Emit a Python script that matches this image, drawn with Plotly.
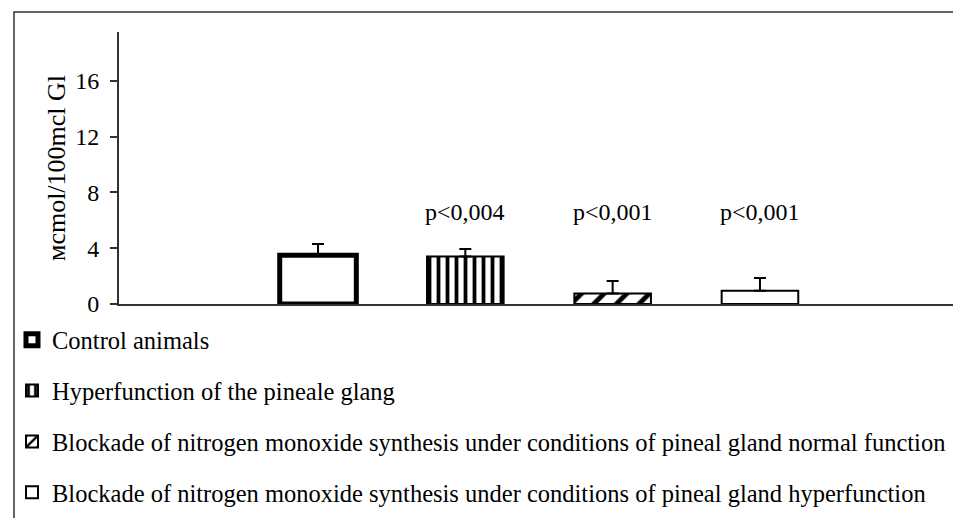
import plotly.graph_objects as go

# ---- data ----
groups = [
    "Control animals",
    "Hyperfunction of the pineale glang",
    "Blockade of nitrogen monoxide synthesis under conditions of pineal gland normal function",
    "Blockade of nitrogen monoxide synthesis under conditions of pineal gland hyperfunction",
]
values = [3.5, 3.4, 0.75, 0.95]
errors = [0.8, 0.55, 0.9, 0.92]
p_labels = ["", "p<0,004", "p<0,001", "p<0,001"]
y_ticks = [0, 4, 8, 12, 16]
y_title = "мcmol/100mcl Gl"
label_height = 6.6

FONT = "Liberation Serif, Times New Roman, serif"

styles = [
    dict(line_w=5, shape=""),
    dict(line_w=2, shape="|"),
    dict(line_w=2, shape="/"),
    dict(line_w=2, shape=""),
]

fig = go.Figure()
for i, (g, v, e) in enumerate(zip(groups, values, errors)):
    st = styles[i]
    marker = dict(color="white", opacity=1, line=dict(color="black", width=st["line_w"]))
    if st["shape"] == "|":
        marker["pattern"] = dict(shape="|", fgcolor="black", bgcolor="white",
                                 fgopacity=1, size=9, solidity=0.42)
    elif st["shape"] == "/":
        marker["pattern"] = dict(shape="/", fgcolor="black", bgcolor="white",
                                 fgopacity=1, size=16, solidity=0.3)
    fig.add_trace(go.Bar(
        x=[i], y=[v], name=g, width=0.52,
        marker=marker, offsetgroup="all",
        legendgroup=f"g{i}",
        error_y=dict(type="data", symmetric=False, array=[e], arrayminus=[0],
                     color="black", thickness=2, width=6),
    ))

for i, lab in enumerate(p_labels):
    if lab:
        fig.add_annotation(x=i, y=label_height, text=lab, showarrow=False,
                           font=dict(family=FONT, size=24, color="black"))

# outer frame (top + left edges)
fig.add_shape(type="rect", xref="paper", yref="paper",
              x0=-0.1256, x1=1.2, y0=-1.2, y1=1.0735,
              line=dict(color="#333333", width=1.5), fillcolor="rgba(0,0,0,0)",
              layer="below")

fig.update_layout(
    width=953, height=510,
    margin=dict(l=111, r=6, t=24, b=214, autoexpand=False),
    paper_bgcolor="white", plot_bgcolor="white",
    barmode="group",
    font=dict(family=FONT, size=24, color="black"),
    showlegend=True,
    legend=dict(
        x=-0.128, xanchor="left", y=-0.049, yanchor="top",
        font=dict(family=FONT, size=24.5, color="black"),
        tracegroupgap=16, bgcolor="rgba(0,0,0,0)",
        itemwidth=30,
    ),
    xaxis=dict(
        range=[-1.351, 4.324], showticklabels=False, ticks="",
        showgrid=False, zeroline=False, showline=True,
        linecolor="#333333", linewidth=2, automargin=False,
    ),
    yaxis=dict(
        range=[0, 19.5], tickvals=y_ticks, ticks="outside", ticklen=7,
        tickwidth=2, tickcolor="#333333", ticklabelstandoff=6,
        showgrid=False, zeroline=False, showline=True,
        linecolor="#333333", linewidth=2, automargin=False,
        title=dict(text=y_title, font=dict(family=FONT, size=26), standoff=2),
        tickfont=dict(family=FONT, size=24),
    ),
)

fig.write_html("out.html")
